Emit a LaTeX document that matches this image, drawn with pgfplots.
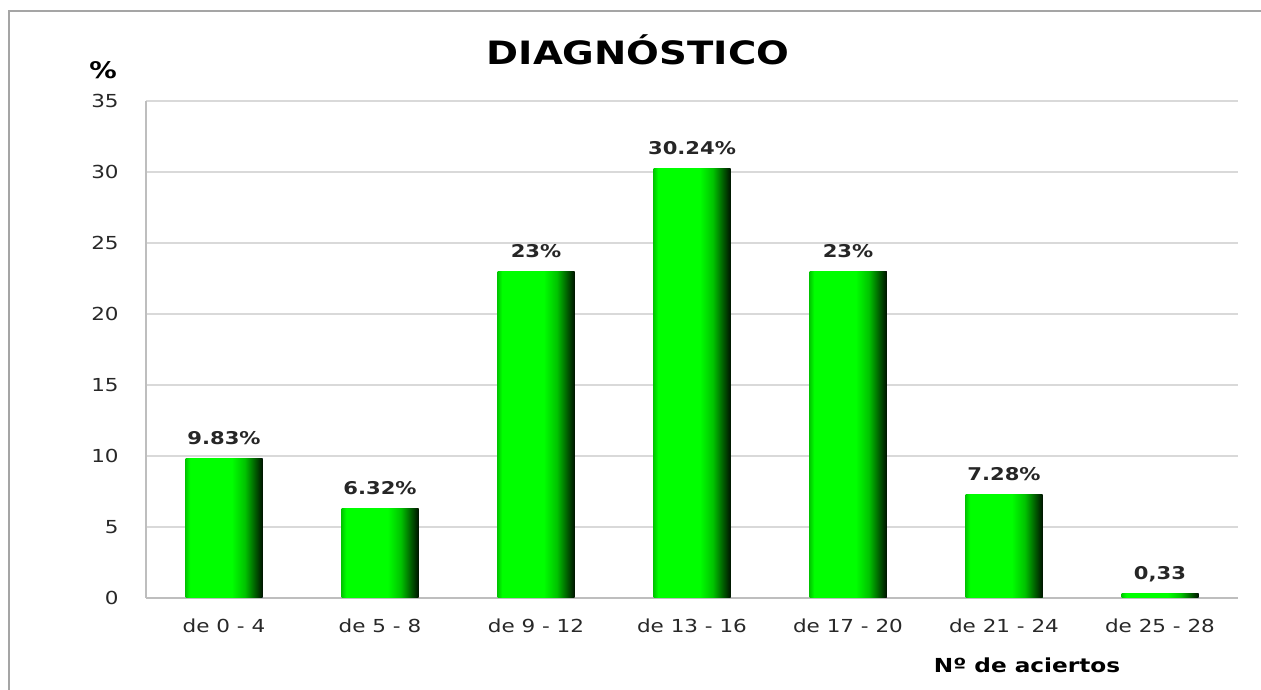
\documentclass[border=0pt]{standalone}
\usepackage{pgfplots}
\pgfplotsset{compat=1.18}
\usepackage{fontspec}
\setmainfont{DejaVu Sans}[FakeStretch=1.2]

\definecolor{gridgray}{RGB}{217,217,217}
\definecolor{axisgray}{RGB}{190,190,190}
\definecolor{framegray}{RGB}{165,165,165}
\definecolor{tickgray}{RGB}{40,40,40}
\definecolor{gA}{RGB}{0,200,0}
\definecolor{gB}{RGB}{0,255,0}
\definecolor{gC}{RGB}{0,195,0}
\definecolor{gD}{RGB}{0,95,0}
\definecolor{gE}{RGB}{0,20,0}

% bevelled bar face: darker left edge, bright body, dark right side
% (TikZ maps a path's bounding box onto 25bp..75bp of the shading)
\pgfdeclarehorizontalshading{barshade}{100bp}{%
  color(0bp)=(gA); color(25bp)=(gA); color(28bp)=(gB); color(55bp)=(gB);
  color(63.5bp)=(gC); color(70bp)=(gD); color(75bp)=(gE); color(100bp)=(gE)}

\begin{document}
\begin{tikzpicture}
\path[use as bounding box] (0,0) rectangle (25.22,13.8);
% chart frame (top and left edges)
\draw[framegray, line width=0.04cm] (0.18,0) -- (0.18,13.58) -- (25.22,13.58);

\begin{axis}[
  at={(2.92cm,1.84cm)}, anchor=south west,
  scale only axis, width=21.84cm, height=9.94cm,
  ymin=0, ymax=35, ytick={0,5,...,35},
  xmin=-0.5, xmax=6.5,
  xtick={0,...,6},
  xticklabels={de 0 - 4, de 5 - 8, de 9 - 12, de 13 - 16, de 17 - 20, de 21 - 24, de 25 - 28},
  axis x line*=bottom, axis y line*=left,
  axis line style={axisgray, line width=0.03cm},
  x axis line style={-}, y axis line style={-},
  ymajorgrids, grid style={gridgray, line width=0.035cm},
  major tick length=0pt,
  /pgf/number format/assume math mode=true,
  tick label style={font=\fontsize{10.2}{12}\selectfont, text=tickgray},
  yticklabel style={anchor=east, inner sep=0pt, xshift=-0.54cm},
  xticklabel style={anchor=base, inner sep=0pt, yshift=-0.7cm},
  ybar, bar width=1.54cm, bar shift=0pt,
  nodes near coords,
  point meta=explicit symbolic,
  every node near coord/.append style={font=\bfseries\fontsize{10}{12}\selectfont,
    text=black!85, anchor=base, inner sep=0pt, yshift=0.28cm},
  every axis plot/.append style={draw=none, shading=barshade},
]
% one plot per class, so each bar gets its own shading
\addplot coordinates {(0,9.83)  [9.83\%]};
\addplot coordinates {(1,6.32)  [6.32\%]};
\addplot coordinates {(2,23)    [23\%]};
\addplot coordinates {(3,30.24) [30.24\%]};
\addplot coordinates {(4,23)    [23\%]};
\addplot coordinates {(5,7.28)  [7.28\%]};
\addplot coordinates {(6,0.33)  [0,33]};
\end{axis}

\node[font=\bfseries\fontsize{18.3}{22}\selectfont] at (12.76,12.8) {DIAGNÓSTICO};
\node[font=\bfseries\fontsize{13}{15}\selectfont] at (2.06,12.4) {\%};
\node[font=\bfseries\fontsize{11}{13}\selectfont] at (20.54,0.5) {Nº de aciertos};
\end{tikzpicture}
\end{document}
